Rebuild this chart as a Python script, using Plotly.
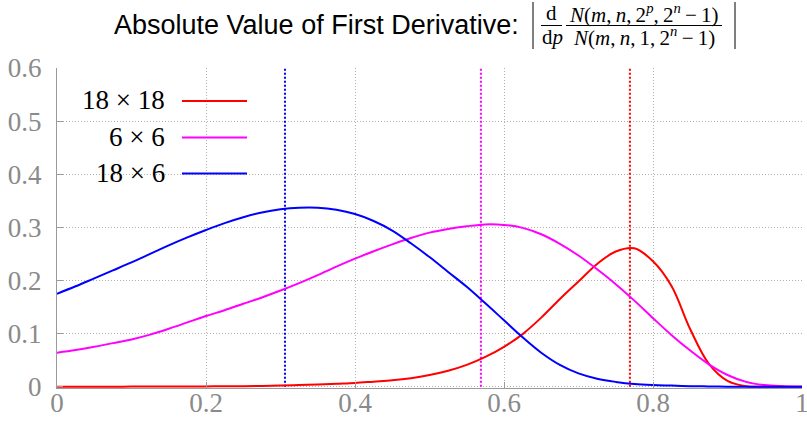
import plotly.graph_objects as go

# ---- data ----
p = [0.0, 0.025, 0.05, 0.075, 0.1, 0.125, 0.15, 0.175, 0.2, 0.225, 0.25,
     0.275, 0.3, 0.325, 0.35, 0.375, 0.4, 0.425, 0.45, 0.475, 0.5,
     0.525, 0.55, 0.575, 0.6, 0.625, 0.65, 0.675, 0.7, 0.725, 0.75,
     0.775, 0.8, 0.825, 0.85, 0.875, 0.9, 0.925, 0.95, 0.975, 1.0]
red_18x18 = [0.0, 0.0, 0.0, 0.0, 0.0001, 0.0001, 0.0002, 0.0003, 0.0005, 0.0007, 0.001,
             0.0015, 0.002, 0.003, 0.004, 0.0055, 0.007, 0.0095, 0.012, 0.016, 0.022,
             0.030, 0.041, 0.056, 0.075, 0.099, 0.130, 0.165, 0.198, 0.231, 0.2545,
             0.2605, 0.236, 0.189, 0.108, 0.043, 0.011, 0.001, 0.0, 0.0, 0.0]
magenta_6x6 = [0.064, 0.069, 0.075, 0.082, 0.089, 0.098, 0.109, 0.121, 0.133, 0.144, 0.156,
               0.168, 0.181, 0.195, 0.210, 0.226, 0.241, 0.255, 0.268, 0.280, 0.290,
               0.297, 0.302, 0.3055, 0.3045, 0.299, 0.287, 0.269, 0.247, 0.221, 0.193,
               0.162, 0.129, 0.097, 0.068, 0.042, 0.022, 0.009, 0.003, 0.001, 0.0]
blue_18x6 = [0.175, 0.189, 0.204, 0.219, 0.234, 0.250, 0.266, 0.281, 0.295, 0.308, 0.319,
             0.328, 0.334, 0.337, 0.337, 0.333, 0.325, 0.312, 0.294, 0.270, 0.244,
             0.216, 0.188, 0.157, 0.125, 0.093, 0.064, 0.041, 0.025, 0.015, 0.009,
             0.005, 0.003, 0.002, 0.001, 0.0005, 0.0, 0.0, 0.0, 0.0, 0.0]

series_names = ["18 × 18", "6 × 6", "18 × 6"]
series_colors = ["#ff0000", "#ff00ff", "#0000ff"]
series_values = [red_18x18, magenta_6x6, blue_18x6]
optimal_p = [0.769, 0.569, 0.306]
x_ticks = [0, 0.2, 0.4, 0.6, 0.8, 1]
x_tick_labels = ["0", "0.2", "0.4", "0.6", "0.8", "1"]
y_ticks = [0, 0.1, 0.2, 0.3, 0.4, 0.5, 0.6]
y_tick_labels = ["0", "0.1", "0.2", "0.3", "0.4", "0.5", "0.6"]

fig = go.Figure()

# vertical dotted markers at the optimal p of each series
for xo, col in zip(optimal_p, series_colors):
    fig.add_trace(go.Scatter(x=[xo, xo], y=[0, 0.6], mode="lines",
                             line=dict(color=col, width=2, dash="2px,2px"),
                             showlegend=False, hoverinfo="skip"))

for yv, name, col in zip(series_values, series_names, series_colors):
    fig.add_trace(go.Scatter(x=p, y=yv, mode="lines", name=name,
                             line=dict(color=col, width=2, shape="spline", smoothing=1.0),
                             showlegend=False))

grid = "#b0b0b0"
axcol = "#9a9a9a"
tickfont = dict(family="Liberation Serif", size=27, color="#8a8a8a")

fig.update_xaxes(range=[0, 1], tickvals=x_ticks, ticktext=x_tick_labels,
                 showgrid=True, gridcolor=grid, griddash="1px,2px", gridwidth=1,
                 showline=True, linecolor=axcol, linewidth=1, mirror=False,
                 ticks="inside", ticklen=6, tickcolor=axcol, tickfont=tickfont,
                 zeroline=False, automargin=False, ticklabeloverflow="allow",
                 ticklabelstandoff=-9)
fig.update_yaxes(range=[-0.0025, 0.6], tickvals=y_ticks, ticktext=y_tick_labels,
                 showgrid=True, gridcolor=grid, griddash="1px,2px", gridwidth=1,
                 showline=True, linecolor=axcol, linewidth=1, mirror=False,
                 ticks="inside", ticklen=6, tickcolor=axcol, tickfont=tickfont,
                 zeroline=False, automargin=False, ticklabelstandoff=9,
                 ticklabeloverflow="allow")

W, H = 807, 421
L, R, T, B = 57, 5, 68, 33
pw, ph = W - L - R, H - T - B


def px(x):
    return (x - L) / pw


def py(y):
    return (H - B - y) / ph


shapes = []
annotations = []

# legend background (covers gridlines)
shapes.append(dict(type="rect", xref="paper", yref="paper", layer="between",
                   x0=px(95), x1=px(262), y0=py(190), y1=py(83),
                   fillcolor="white", line=dict(width=0)))
legend_rows = [101, 137.5, 173.5]
for name, col, ry in zip(series_names, series_colors, legend_rows):
    shapes.append(dict(type="line", xref="paper", yref="paper", layer="above",
                       x0=px(182), x1=px(247), y0=py(ry), y1=py(ry),
                       line=dict(color=col, width=2)))
    annotations.append(dict(text=name, xref="paper", yref="paper", x=px(167), y=py(ry - 1),
                            xanchor="right", yanchor="middle", showarrow=False,
                            font=dict(family="Liberation Serif", size=27, color="black")))

# title
annotations.append(dict(text="Absolute Value of First Derivative:", xref="paper", yref="paper",
                        x=px(521), y=py(25), xanchor="right", yanchor="middle", showarrow=False,
                        font=dict(family="Liberation Sans", size=27, color="black")))
mathfont = dict(family="Liberation Serif", size=21, color="black")
annotations.append(dict(text="d", xref="paper", yref="paper", x=px(551), y=py(13),
                        xanchor="center", yanchor="middle", showarrow=False, font=mathfont))
annotations.append(dict(text="d<i>p</i>", xref="paper", yref="paper", x=px(552), y=py(37),
                        xanchor="center", yanchor="middle", showarrow=False, font=mathfont))
annotations.append(dict(text="<i>N</i>(<i>m</i>,\u2009<i>n</i>,\u20092<sup><i>p</i></sup>,\u20092<sup><i>n</i></sup>\u2009−\u20091)",
                        xref="paper", yref="paper", x=px(644), y=py(13),
                        xanchor="center", yanchor="middle", showarrow=False, font=mathfont))
annotations.append(dict(text="<i>N</i>(<i>m</i>,\u2009<i>n</i>,\u20091,\u20092<sup><i>n</i></sup>\u2009−\u20091)",
                        xref="paper", yref="paper", x=px(644), y=py(37),
                        xanchor="center", yanchor="middle", showarrow=False, font=mathfont))
shapes.append(dict(type="line", xref="paper", yref="paper", x0=px(541), x1=px(562),
                   y0=py(25.5), y1=py(25.5), line=dict(color="black", width=1)))
shapes.append(dict(type="line", xref="paper", yref="paper", x0=px(566), x1=px(722),
                   y0=py(25.5), y1=py(25.5), line=dict(color="black", width=1)))
for bx in (533, 735):
    shapes.append(dict(type="line", xref="paper", yref="paper", x0=px(bx), x1=px(bx),
                       y0=py(2), y1=py(49), line=dict(color="black", width=1)))

fig.update_layout(width=W, height=H, margin=dict(l=L, r=R, t=T, b=B, pad=0),
                  plot_bgcolor="white", paper_bgcolor="white",
                  showlegend=False, shapes=shapes, annotations=annotations)

fig.write_html("out.html", config={"displayModeBar": False},
               post_script="document.body.style.margin='0';document.body.style.overflow='hidden';")
